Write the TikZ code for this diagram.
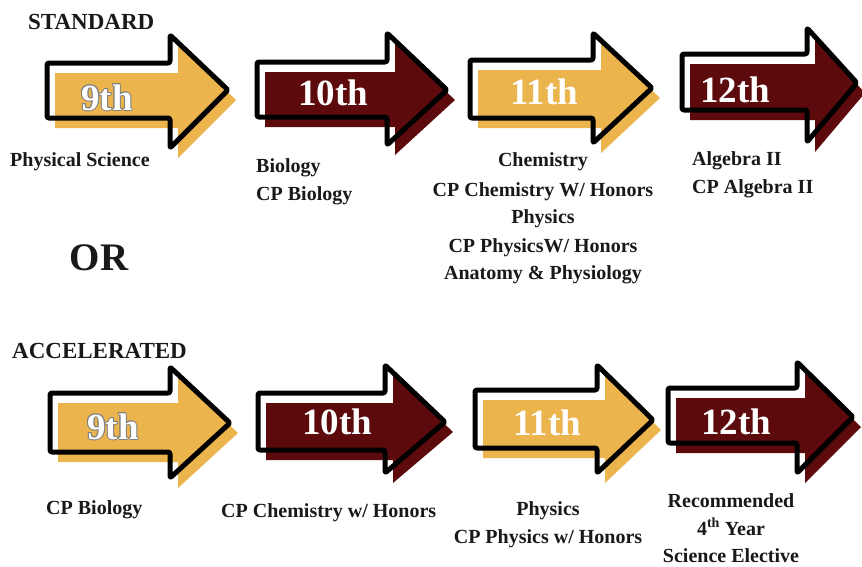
\documentclass[tikz,border=0pt]{standalone}
\usepackage{fontspec}
\setmainfont{Liberation Serif}
\definecolor{gold}{RGB}{235,180,77}
\definecolor{maroonc}{RGB}{92,10,12}
\definecolor{ink}{RGB}{25,25,25}
% #1 left, #2 shaft top, #3 shaft bottom, #4 head base, #5 head top, #6 head bottom, #7 tip x, #8 tip y, #9 colour
\newcommand{\gradearrow}[9]{%
  \begin{scope}[xshift=8pt,yshift=-10pt]
    \fill[#9] (#1,#2) -- (#4,#2) -- (#4,#5) -- (#7,#8) -- (#4,#6) -- (#4,#3) -- (#1,#3) -- cycle;
  \end{scope}
  \draw[outl] (#1,#2) -- (#4,#2) -- (#4,#5) -- (#7,#8) -- (#4,#6) -- (#4,#3) -- (#1,#3) -- cycle;
}
\tikzset{
  outl/.style={draw=black,line width=5pt,line join=round,rounded corners=2pt},
  grade/.style={font=\fontsize{37}{40}\selectfont\bfseries,text=white,anchor=base,inner sep=0pt},
  lbl/.style={font=\fontsize{20}{24}\selectfont\bfseries,text=ink,anchor=base,inner sep=0pt},
  lblw/.style={lbl,anchor=base west},
  head/.style={font=\fontsize{23}{26}\selectfont\bfseries,text=ink,anchor=base west,inner sep=0pt},
}
\begin{document}
\begin{tikzpicture}[x=1pt,y=-1pt]
\useasboundingbox[fill=white] (0,0) rectangle (862,566);
% STANDARD row
\gradearrow{47}{63}{118}{170}{35}{148}{228}{90}{gold}
\gradearrow{257}{62}{117}{387}{33}{145}{447}{90}{maroonc}
\gradearrow{470}{60}{118}{593}{33}{143}{652}{88}{gold}
\gradearrow{682}{54}{110}{807}{28}{142}{857}{83}{maroonc}
% ACCELERATED row
\gradearrow{50}{393}{452}{170}{367}{478}{230}{423}{gold}
\gradearrow{258}{393}{450}{385}{365}{473}{445}{422}{maroonc}
\gradearrow{475}{390}{448}{597}{365}{473}{653}{420}{gold}
\gradearrow{668}{388}{443}{797}{362}{473}{853}{417}{maroonc}
% grade texts (grey outline on the two 9th labels)
\foreach \dx/\dy in {-1/0,1/0,0/-1,0/1,-0.7/-0.7,0.7/0.7,-0.7/0.7,0.7/-0.7}{
  \node[grade,text=gray] at ([shift={(\dx,\dy)}]107,110) {9th};
  \node[grade,text=gray] at ([shift={(\dx,\dy)}]113,439) {9th};
}
\node[grade] (s9) at (107,110) {9th};
\node[grade] (s10) at (333,105) {10th};
\node[grade] (s11) at (544,104) {11th};
\node[grade] (s12) at (735,102) {12th};
\node[grade] (a9) at (113,439) {9th};
\node[grade] (a10) at (337,434) {10th};
\node[grade] (a11) at (547,435) {11th};
\node[grade] (a12) at (736,434) {12th};
% headings
\node[head] (std) at (28,29) {STANDARD};
\node[font=\fontsize{39}{42}\selectfont\bfseries,text=ink,anchor=base,inner sep=0pt] (or) at (99,270) {OR};
\node[head] (acc) at (12,358) {ACCELERATED};
% standard labels
\node[lblw] (l9) at (10,166) {Physical Science};
\node[lblw] (l10a) at (256,172) {Biology};
\node[lblw] (l10b) at (256,200) {CP Biology};
\node[lbl] (l11a) at (543,166) {Chemistry};
\node[lbl] (l11b) at (543,196) {CP Chemistry W/ Honors};
\node[lbl] (l11c) at (543,223) {Physics};
\node[lbl] (l11d) at (543,252) {CP PhysicsW/ Honors};
\node[lbl] (l11e) at (543,279) {Anatomy \& Physiology};
\node[lblw] (l12a) at (692,165) {Algebra II};
\node[lblw] (l12b) at (692,193) {CP Algebra II};
% accelerated labels
\node[lblw] (m9) at (46,514) {CP Biology};
\node[lblw] (m10) at (221,517) {CP Chemistry w/ Honors};
\node[lbl] (m11a) at (548,515) {Physics};
\node[lbl] (m11b) at (548,543) {CP Physics w/ Honors};
\node[lbl] (m12a) at (731,507) {Recommended};
\node[lbl] (m12b) at (731,535) {4\textsuperscript{th} Year};
\node[lbl] (m12c) at (731,562) {Science Elective};
\end{tikzpicture}
\end{document}
